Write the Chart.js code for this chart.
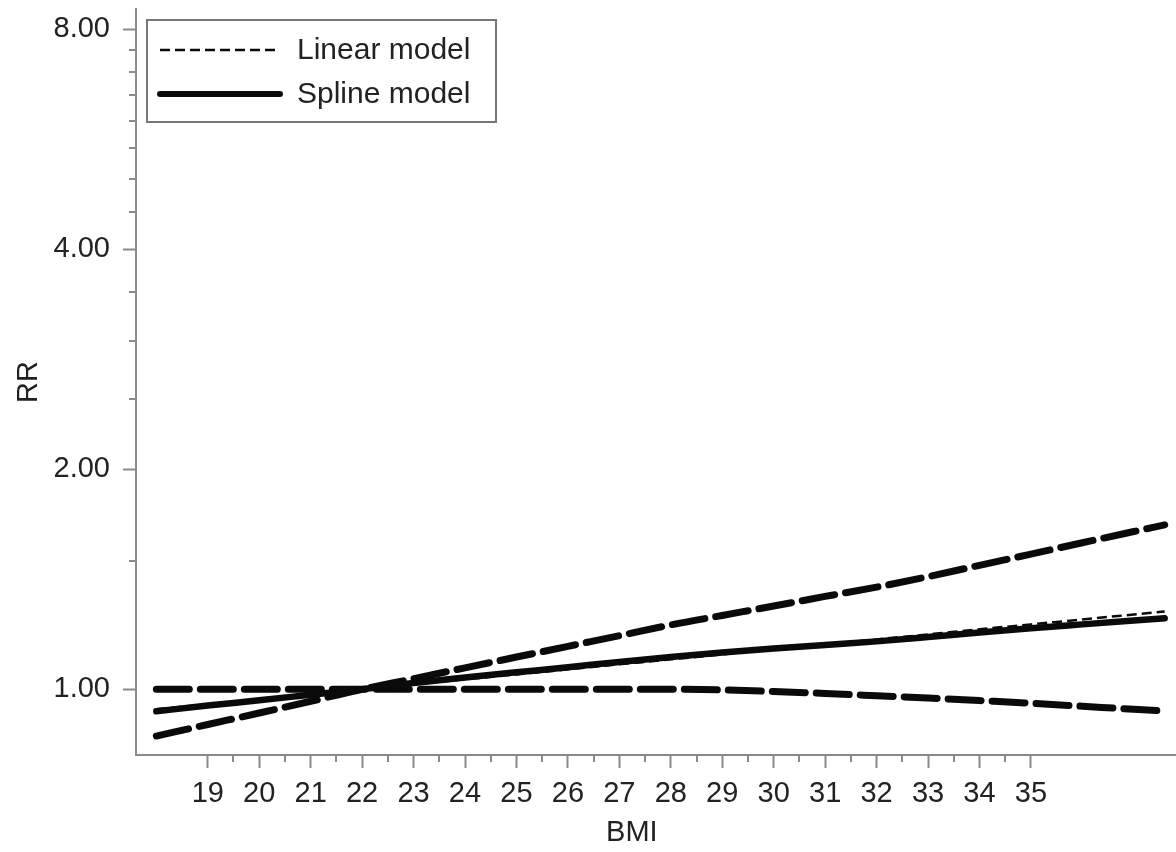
<!DOCTYPE html>
<html>
<head>
<meta charset="utf-8">
<script src="https://cdn.jsdelivr.net/npm/chart.js@4.4.1/dist/chart.umd.min.js"></script>
<style>
  html, body { margin: 0; padding: 0; background: #fff; }
  #wrap { width: 1176px; height: 852px; }
</style>
</head>
<body>
<div id="wrap"><canvas id="rrChart" width="1176" height="852"></canvas></div>
<script>
// BMI values along the x axis
const bmi = [18, 19, 20, 21, 22, 23, 24, 25, 26, 27, 28, 29, 30, 31, 32, 33, 34, 35, 36, 37, 37.6];

// relative risks
const splineRR = [0.933, 0.950, 0.966, 0.983, 1.0, 1.020, 1.038, 1.055, 1.072, 1.090, 1.107, 1.123, 1.137, 1.150, 1.163, 1.179, 1.196, 1.212, 1.227, 1.242, 1.251];
const linearRR = [0.939, 0.954, 0.969, 0.984, 1.0, 1.016, 1.032, 1.048, 1.065, 1.082, 1.099, 1.116, 1.134, 1.152, 1.170, 1.189, 1.208, 1.227, 1.246, 1.266, 1.278];
const ciRising = [0.863, 0.895, 0.928, 0.963, 1.0, 1.034, 1.070, 1.107, 1.145, 1.184, 1.225, 1.262, 1.300, 1.340, 1.380, 1.426, 1.478, 1.531, 1.587, 1.644, 1.679];
const ciFlat = [1.0, 1.0, 1.0, 1.0, 1.0, 1.0, 1.0, 1.0, 1.0, 1.0, 1.0, 0.998, 0.993, 0.987, 0.980, 0.973, 0.965, 0.957, 0.948, 0.939, 0.934];

// tick values
const xTicks = [19, 20, 21, 22, 23, 24, 25, 26, 27, 28, 29, 30, 31, 32, 33, 34, 35];
const xMinorTicks = [19.5, 20.5, 21.5, 22.5, 23.5, 24.5, 25.5, 26.5, 27.5, 28.5, 29.5, 30.5, 31.5, 32.5, 33.5, 34.5];
const yTicks = [1, 2, 4, 8];
const yMinorTicks = [1.5, 2.5, 3, 3.5, 4.5, 5, 5.5, 6, 6.5, 7, 7.5];

const axisGray = '#8a8a8a';
const textColor = '#222';
const ink = '#0a0a0a';
const fontFamily = "'Liberation Sans', Arial, sans-serif";

Chart.defaults.font.family = fontFamily;
Chart.defaults.color = textColor;

function toPoints(ys) {
    return bmi.map((x, i) => ({ x: x, y: ys[i] }));
}

// short minor ticks on both axes
const minorTicks = {
    id: 'minorTicks',
    afterDraw(chart) {
        const c = chart.ctx;
        const xs = chart.scales.x;
        const ys = chart.scales.y;
        c.save();
        c.strokeStyle = axisGray;
        c.lineWidth = 2;
        c.beginPath();
        xMinorTicks.forEach(v => {
            const px = Math.round(xs.getPixelForValue(v));
            c.moveTo(px, xs.top);
            c.lineTo(px, xs.top + 7);
        });
        yMinorTicks.forEach(v => {
            const py = Math.round(ys.getPixelForValue(v));
            c.moveTo(ys.right, py);
            c.lineTo(ys.right - 7, py);
        });
        c.stroke();
        c.restore();
    }
};

// legend in a box, top left inside the plot
const boxLegend = {
    id: 'boxLegend',
    afterDraw(chart) {
        const c = chart.ctx;
        const area = chart.chartArea;
        const bx = area.left + 11, by = area.top + 11, bw = 349, bh = 102;
        c.save();
        c.fillStyle = '#fff';
        c.fillRect(bx, by, bw, bh);
        c.strokeStyle = '#777';
        c.lineWidth = 2;
        c.strokeRect(bx, by, bw, bh);

        const items = chart.data.datasets.filter(d => d.inLegend);
        items.sort((a, b) => a.legendRow - b.legendRow);
        items.forEach((d, i) => {
            const y = by + 30 + i * 44;
            c.beginPath();
            c.strokeStyle = d.borderColor;
            c.lineWidth = d.legendWidth || d.borderWidth;
            c.lineCap = d.borderCapStyle || 'butt';
            c.setLineDash(d.borderDash || []);
            c.moveTo(bx + 13, y);
            c.lineTo(bx + 133, y);
            c.stroke();
            c.setLineDash([]);
            c.fillStyle = textColor;
            c.font = '30px ' + fontFamily;
            c.textBaseline = 'middle';
            c.fillText(d.label, bx + 150, y + 1);
        });
        c.restore();
    }
};

const data = {
    datasets: [
        {
            label: 'Spline model',
            data: toPoints(splineRR),
            borderColor: ink,
            borderWidth: 6.5,
            legendWidth: 6,
            borderCapStyle: 'round',
            inLegend: true,
            legendRow: 1
        },
        {
            label: 'Linear model',
            data: toPoints(linearRR),
            borderColor: ink,
            borderWidth: 2.5,
            borderDash: [10, 5],
            inLegend: true,
            legendRow: 0
        },
        {
            label: '95% CI',
            data: toPoints(ciRising),
            borderColor: ink,
            borderWidth: 7,
            borderDash: [33, 11],
            borderCapStyle: 'round'
        },
        {
            label: '95% CI ',
            data: toPoints(ciFlat),
            borderColor: ink,
            borderWidth: 7,
            borderDash: [33, 11],
            borderCapStyle: 'round'
        }
    ]
};

const config = {
    type: 'line',
    data: data,
    options: {
        responsive: false,
        animation: false,
        devicePixelRatio: 1,
        layout: { padding: { top: 9, right: 0, bottom: 0, left: 0 } },
        elements: {
            point: { radius: 0 },
            line: { cubicInterpolationMode: 'monotone', fill: false }
        },
        plugins: {
            legend: { display: false },
            tooltip: { enabled: false }
        },
        scales: {
            x: {
                type: 'linear',
                min: 17.605,
                max: 37.82,
                afterBuildTicks: scale => { scale.ticks = xTicks.map(v => ({ value: v })); },
                afterFit: scale => { scale.height = 97; scale.paddingLeft = 0; scale.paddingRight = 0; },
                border: { display: true, color: axisGray, width: 2 },
                grid: { drawOnChartArea: false, drawTicks: true, tickLength: 13, tickColor: axisGray, tickWidth: 2 },
                ticks: {
                    autoSkip: false,
                    maxRotation: 0,
                    padding: 9,
                    color: textColor,
                    font: { size: 29 },
                    callback: function (value) { return String(value); }
                },
                title: {
                    display: true,
                    text: 'BMI      ',
                    color: textColor,
                    font: { size: 29 },
                    padding: { top: 0, bottom: 2 }
                }
            },
            y: {
                type: 'logarithmic',
                min: 0.813,
                max: 8.53,
                afterBuildTicks: scale => { scale.ticks = yTicks.map(v => ({ value: v })); },
                afterFit: scale => { scale.width = 136; scale.paddingTop = 0; scale.paddingBottom = 0; },
                border: { display: true, color: axisGray, width: 2 },
                grid: { drawOnChartArea: false, drawTicks: true, tickLength: 13, tickColor: axisGray, tickWidth: 2 },
                ticks: {
                    padding: 13,
                    color: textColor,
                    font: { size: 29 },
                    callback: function (value) { return Number(value).toFixed(2); }
                },
                title: {
                    display: true,
                    text: 'RR',
                    color: textColor,
                    font: { size: 29 },
                    padding: { top: 12, bottom: 0 }
                }
            }
        }
    },
    plugins: [minorTicks, boxLegend]
};

const rrChart = new Chart(document.getElementById('rrChart'), config);
</script>
</body>
</html>
